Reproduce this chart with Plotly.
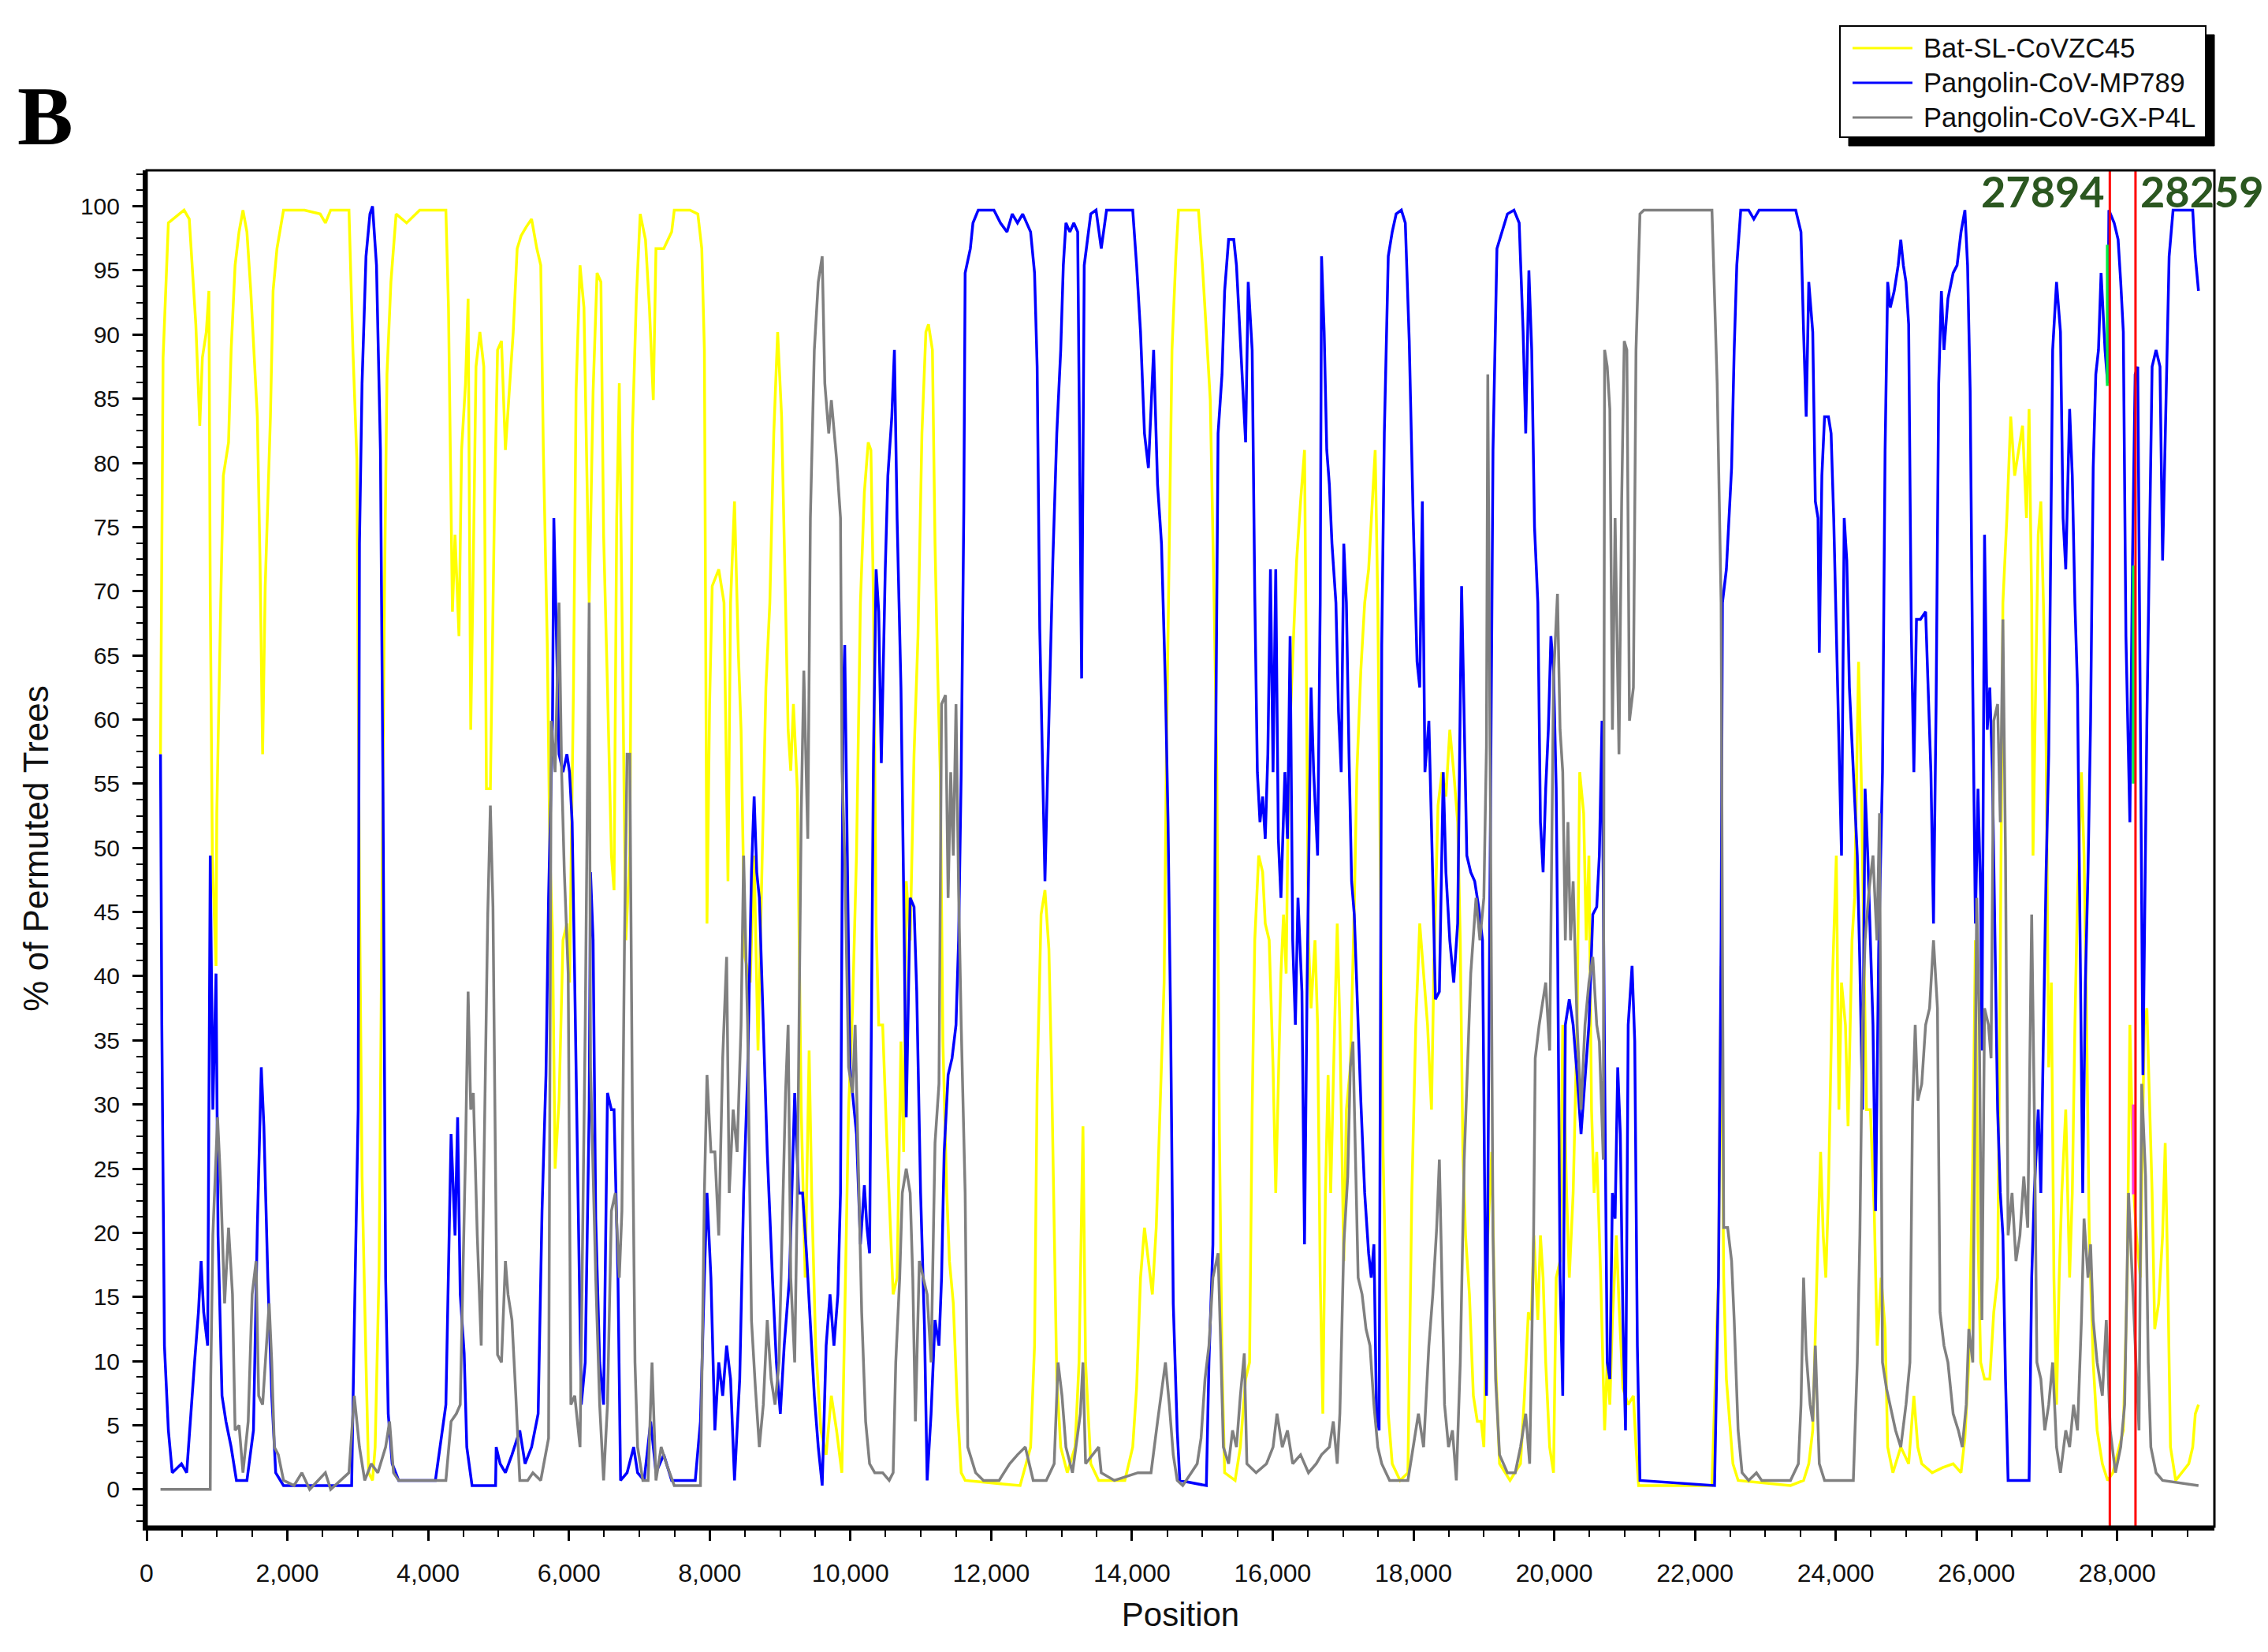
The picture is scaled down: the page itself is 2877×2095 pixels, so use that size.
import plotly.graph_objects as go

# ---------------- data (position in bp, % of permuted trees) ----------------
bat_x = [197,234,309,532,606,643,699,755,792,848,885,904,934,986,997,1053,1090,1164,1201,1257,1313,1369,1425,1480,1536,1573,1611,1648,1685,1759,1797,1852,1945,2243,2466,2540,2615,2875,2931,2987,3024,3061,3117,3154,3210,3247,3303,3340,3378,3415,3471,3545,3694,3880,4252,4289,4326,4345,4382,4438,4475,4531,4568,4605,4642,4680,4735,4791,4828,4884,4940,4986,5042,5098,5153,5209,5265,5321,5395,5470,5544,5600,5637,5693,5730,5767,5804,5860,5916,5972,6009,6065,6102,6158,6214,6251,6288,6344,6400,6455,6493,6548,6604,6641,6679,6716,6753,6809,6865,6902,6958,7013,7088,7144,7199,7237,7348,7460,7497,7720,7832,7888,7925,7962,7999,8036,8129,8204,8260,8297,8353,8408,8446,8501,8576,8632,8687,8743,8799,8855,8911,8966,9022,9078,9115,9152,9190,9245,9301,9357,9413,9450,9506,9580,9655,9729,9803,9878,9919,9974,10030,10086,10142,10198,10253,10291,10328,10365,10402,10458,10514,10570,10607,10663,10718,10756,10793,10849,10904,10960,11016,11072,11109,11165,11202,11239,11276,11314,11369,11407,11462,11518,11574,11630,12411,12560,12616,12653,12709,12764,12820,12857,12895,12932,12988,13081,13192,13248,13304,13341,13415,13527,13899,14011,14066,14122,14178,14234,14290,14345,14401,14457,14494,14531,14569,14624,14662,14945,15001,15057,15113,15168,15206,15243,15280,15317,15466,15540,15615,15671,15708,15745,15801,15857,15894,15950,16005,16043,16080,16117,16154,16191,16229,16284,16340,16396,16452,16470,16508,16545,16601,16638,16675,16712,16749,16787,16824,16880,16917,16954,17010,17047,17103,17159,17196,17252,17307,17363,17419,17456,17493,17531,17568,17605,17642,17698,17810,17921,17977,18033,18089,18144,18200,18256,18293,18349,18405,18461,18516,18572,18628,18665,18702,18740,18795,18851,18907,18963,19000,19056,19112,19167,19223,19372,19521,19577,19632,19674,19711,19767,19804,19842,19879,19935,19990,20028,20083,20121,20176,20214,20269,20325,20362,20418,20455,20493,20530,20567,20604,20660,20716,20753,20790,20827,20883,20920,20976,21051,21125,21162,21199,22241,22297,22334,22371,22408,22446,22483,22539,22613,23357,23543,23617,23673,23710,23748,23785,23822,23859,23896,23952,24008,24045,24082,24138,24175,24231,24268,24324,24361,24399,24436,24492,24547,24589,24645,24701,24738,24812,24924,25036,25110,25166,25222,25370,25519,25668,25780,25835,25891,25947,25984,26021,26059,26114,26189,26245,26300,26338,26375,26431,26486,26542,26598,26654,26710,26747,26784,26803,26840,26877,26914,26951,26989,27026,27063,27100,27137,27175,27212,27268,27323,27361,27398,27435,27491,27528,27565,27602,27658,27714,27788,27863,27937,28030,28086,28142,28179,28235,28272,28328,28384,28421,28458,28495,28532,28588,28644,28681,28718,28756,28830,29016,29072,29109,29154]
bat_y = [57.3,88.2,98.7,99.7,99,95.4,90.8,82.9,88.2,90.2,93.4,69.8,49.4,40.8,52.7,69.1,79,81.6,88.8,95.4,98,99.7,98,93.4,87.5,83.6,72.4,57.3,70.4,83.6,93.4,96.7,99.7,99.7,99.4,98.7,99.7,99.7,88.8,80.3,46.7,24.4,9.9,1.3,0.7,3.3,17.1,44.1,69.1,86.9,94.1,99.4,98.7,99.7,99.7,92.1,78.3,68.4,74.4,66.5,81,86.2,92.8,59.2,72.4,87.5,90.2,87.5,54.6,54.6,75.7,88.8,89.5,81,85.6,90.2,96.7,97.7,98.4,99,96.7,95.4,81,65.8,49.4,43.4,25,30.3,42.8,44.1,39.5,62.5,85.6,95.4,92.1,79,69.1,85.6,94.8,94.1,74.4,62.5,49.4,46.7,75.7,86.2,69.1,42.8,49.4,82.3,92.8,99.4,97.4,92.1,84.9,96.7,96.7,98,99.7,99.7,99.4,96.7,88.8,44.1,61.2,70.4,71.7,69.1,47.4,69.1,77,65.2,59.2,41.5,39.5,49.4,34.2,49.4,62.5,69.1,82.3,90.2,83.6,69.1,59.2,56,61.2,54.6,29.6,16.5,34.2,23,11.2,4.6,2.7,7.3,4.6,1.3,13.2,29.6,37.5,49.4,69.1,77.7,81.6,81,69.1,44.1,36.2,36.2,27.7,20.4,15.2,16.5,34.9,26.3,47.4,42.8,57.3,66.5,82.3,90.2,90.8,88.8,73.7,63.8,55.9,34.9,23.1,17.8,14.5,6.6,1.3,0.7,0.3,3.3,11.2,31.6,44.8,46.7,42.1,32.9,19.8,8.6,3.3,1.3,3.3,9.9,28.3,9.9,2,0.7,0.7,3.3,7.9,16.5,20.4,17.8,15.2,20.4,29.6,39.5,59.2,75.7,88.8,96.1,99.7,99.7,95.4,90.2,84.9,69.1,55.9,27.7,9.9,1.3,0.7,3.3,8.6,9.9,29.6,42.8,49.4,48.1,44.1,42.8,32.9,23.1,32.9,40.2,44.8,40.2,57.3,65.2,72.4,77,81,69.1,42.8,37.5,42.8,36.2,16.5,5.9,23.1,32.3,23.1,36.2,44.1,36.2,17.8,29.6,32.9,45.4,55.9,63.8,69.1,71.7,77,81,69.1,49.4,26.3,16.5,5.9,2,0.7,1.3,23.1,36.2,44.1,40.2,36.2,29.6,41.5,53.3,55.9,54,59.2,55.9,52,42.8,26.3,19.8,15.2,7.3,5.3,5.3,3.3,19.8,26.3,9.9,2,0.7,2,7.3,13.8,13.2,19.8,13.2,19.8,16.5,9.9,3.3,1.3,16.5,17.8,36.2,23.1,16.5,23.1,36.2,55.9,52.7,42.8,49.4,29.6,23.1,26.3,16.5,4.6,9.9,6.6,13.2,19.8,14.5,7.9,6.6,7.3,3.3,0.3,0.3,9.9,16.5,40.8,16.5,8.6,5.9,2,0.7,0.3,0.7,2,4.6,13.2,19.8,26.3,19.8,16.5,23.1,39.5,49.4,29.6,39.5,36.2,28.3,42.8,46.1,64.5,55.9,42.8,29.6,29.6,21.7,11.2,16.5,12.5,3.3,1.3,3.3,2,7.3,3.3,2,1.3,1.7,2,1.3,4,9.9,25.7,42.8,19.8,9.9,8.6,8.6,13.8,16.5,41.5,69.1,75.7,83.6,79,81,82.9,75.7,84.2,69.1,49.4,62.5,74.4,77,69.1,57.9,32.9,39.5,16.5,6.6,16.5,23.1,29.6,16.5,23.1,36.2,46.1,55.9,49.4,36.2,19.8,9.9,4.6,2,0.7,1.3,3.3,4.6,16.5,36.2,23.1,19.8,16.5,36.2,37.5,29.6,23.1,12.5,14.5,19.8,27,16.5,3.3,0.7,2,3.3,5.9,6.6]

mp789_x = [197,216,253,309,364,495,569,625,681,736,774,811,867,904,941,986,1015,1071,1127,1201,1276,1425,1518,1573,1629,1666,1722,1778,1834,1945,2913,2950,3006,3024,3061,3117,3173,3210,3266,3322,3359,3396,3433,3489,3582,4103,4252,4326,4382,4419,4456,4512,4549,4624,4958,4967,5023,5098,5191,5302,5377,5470,5563,5618,5674,5711,5767,5786,5823,5860,5916,5972,6009,6046,6083,6139,6176,6232,6288,6307,6344,6381,6437,6493,6548,6604,6641,6697,6734,6827,6920,6976,7069,7162,7237,7348,7460,7795,7869,7925,7962,8018,8074,8129,8185,8241,8297,8353,8427,8483,8539,8594,8632,8669,8706,8762,8818,8892,8948,9004,9059,9134,9208,9264,9320,9376,9431,9487,9543,9599,9655,9710,9766,9822,9859,9878,9896,9919,9956,9993,10030,10086,10142,10198,10235,10272,10328,10365,10402,10439,10495,10532,10588,10625,10663,10718,10756,10793,10849,10904,10942,10997,11053,11090,11146,11202,11258,11295,11332,11388,11444,11500,11537,11574,11611,11630,11704,11741,11816,12039,12132,12225,12299,12374,12448,12560,12616,12653,12690,12727,12764,12802,12839,12876,12932,12988,13025,13062,13118,13174,13229,13285,13322,13415,13490,13564,13639,14011,14066,14122,14178,14234,14308,14364,14420,14476,14513,14550,14587,14643,14680,15057,15094,15150,15187,15224,15280,15317,15373,15447,15485,15522,15578,15615,15652,15708,15745,15782,15819,15857,15894,15931,15968,16005,16043,16080,16117,16173,16210,16247,16284,16322,16359,16415,16452,16489,16545,16582,16638,16675,16694,16731,16768,16805,16842,16898,16935,16973,17010,17047,17084,17121,17159,17196,17252,17307,17363,17400,17438,17475,17512,17549,17586,17642,17698,17754,17828,17884,17940,17996,18051,18089,18126,18163,18219,18275,18312,18368,18423,18461,18516,18572,18628,18684,18721,18758,18814,18870,18926,18981,19037,19093,19130,19186,19260,19335,19428,19502,19558,19595,19640,19680,19720,19767,19804,19842,19879,19916,19953,19990,20028,20046,20083,20121,20158,20214,20269,20325,20381,20437,20493,20548,20604,20641,20679,20716,20753,20790,20827,20865,20902,20939,20976,21013,21051,21106,21144,21181,21218,22278,22334,22371,22390,22446,22483,22520,22557,22594,22650,22762,22836,22911,23431,23506,23543,23580,23617,23673,23710,23748,23766,23803,23841,23896,23934,23971,24027,24082,24120,24157,24194,24250,24306,24343,24380,24417,24455,24492,24529,24566,24610,24664,24701,24738,24775,24831,24887,24924,24961,24998,25036,25073,25110,25147,25203,25277,25315,25352,25389,25426,25463,25501,25538,25594,25668,25724,25780,25835,25873,25910,25947,25984,26021,26059,26077,26114,26152,26189,26226,26263,26300,26338,26375,26412,26449,26747,26784,26821,26877,26914,26951,26989,27026,27082,27137,27193,27230,27268,27323,27361,27398,27435,27472,27509,27547,27584,27621,27658,27695,27733,27770,27826,27863,27881,27956,28012,28049,28086,28123,28179,28216,28254,28291,28328,28365,28421,28458,28495,28551,28607,28644,28681,28737,28793,29072,29109,29154]
mp789_y = [57.3,36.2,11.2,4.6,1.3,2,1.3,5.9,9.9,13.8,17.8,13.8,11.2,49.4,29.6,40.2,19.8,7.3,5.3,3.3,0.7,0.7,4.6,20.4,32.9,28.3,16.5,7.3,1.3,0.3,0.3,12.5,29.6,73.7,86.2,96.1,99.4,100,95.4,81,54,16.5,5.9,2,0.7,0.7,6.6,27.7,19.8,29,15.2,10.6,3.3,0.3,0.3,3.3,2,1.3,2.7,4.6,2,3.3,5.9,21.7,32.3,46.1,59.9,75.7,65.2,57.3,55.9,57.3,55.9,52,39.5,19.8,6.6,9.9,29.6,48.1,42.8,21.1,9.9,6.6,30.9,29.6,29.6,16.5,0.7,1.3,3.3,1.3,0.7,5.3,1.3,2.7,0.7,0.7,5.3,16.5,23.1,16.5,4.6,9.9,7.3,11.2,8.6,0.7,8.6,23.1,32.3,48.1,54,48.1,46.1,36.2,26.3,16.5,9.9,5.9,11.2,16.5,30.9,23.1,23.1,18.4,12.5,7.3,3.3,0.3,11.2,15.2,11.2,15.2,23.1,46.1,61.2,65.8,49.4,32.9,30.9,27.7,19.1,23.7,20.4,18.4,57.3,71.7,68.4,56.6,71.7,79,83.6,88.8,75.7,62.5,46.7,29,46.1,45.4,38.8,23.1,12.5,0.7,5.9,13.2,11.2,16.5,26.3,32.3,33.6,36.2,42.8,55.9,76.3,94.8,96.7,98.7,99.7,99.7,98.7,98,99.4,98.7,99.4,98,94.8,87.5,67.1,55.9,47.4,55.9,65.2,72.4,82.3,88.8,95.4,98.7,98,98.7,98,63.2,95.4,99.4,99.7,96.7,99.7,99.7,95.4,90.2,82.3,79.6,88.8,78.3,73.7,62.5,52,36.2,14.5,4.6,0.7,0.3,9.9,19.1,55.9,82.3,86.9,93.4,97.4,97.4,95.4,91.5,84.9,81.6,94.1,88.8,69.8,55.9,52,54,50.7,57.3,71.7,55.9,71.7,50.7,46.1,55.9,50.7,66.5,42.8,36.2,46.1,38.8,19.1,39.5,62.5,55.9,49.4,69.1,96.1,90.2,81,78.3,73.7,69.1,60.6,55.9,73.7,69.1,57.3,47.4,44.8,38.8,30.3,23.1,18.4,16.5,19.1,5.9,4.6,65.8,82.3,96.1,98,99.4,99.7,98.7,89.5,75.7,64.5,62.5,77,55.9,59.9,47.4,38.2,38.8,55.9,48.1,42.8,39.5,44.1,70.4,59.2,49.4,48.1,47.4,45.4,42.8,7.3,55.9,81,96.7,98,99.4,99.7,98.7,90.2,82.3,95,88.8,75,69.1,52,48.1,54.6,59.2,66.5,63.8,54.6,44.1,16.5,7.3,36.2,38.2,36.2,32.3,27.7,32.3,36.2,44.8,45.4,49.4,59.9,32.9,9.9,8.6,23.1,21.1,32.9,27.7,13.2,4.6,36.2,40.8,34.9,11.2,0.7,0.3,16.5,42.8,69.1,71.7,75.7,79.6,88.8,95.4,99.7,99.7,99,99.7,99.7,98,90.2,83.6,94.1,90.2,77,75.7,65.2,79,83.6,83.6,82.3,75.7,62.5,49.4,75.7,72.4,62.5,55.9,49.4,40.8,29.6,54.6,49.4,42.8,36.2,21.7,42,55.9,81,94.1,92.1,93.4,95.4,97.4,95.4,94.1,90.8,67.1,55.9,67.8,67.8,68.4,62.5,55.9,44.1,61.2,86.2,93.4,88.8,92.8,94.8,95.4,98,99.7,95.4,85.6,62.5,44.1,54.6,46.1,34.2,74.4,59.2,62.5,55.9,42.8,29.6,23.1,19.8,8.6,0.7,0.7,16.5,23.1,29.6,23.1,36.2,48.1,57.3,88.8,94.1,90.2,75.7,71.7,84.2,79,69.1,62.5,42.8,23.1,39.5,48.1,59.9,79.6,86.9,88.8,94.8,88.8,86.2,99.7,98.7,97.4,94.1,90.2,66.5,52,72.4,86.9,87.5,60.6,32.3,59.9,73.7,87.5,88.8,87.5,72.4,82.3,96.1,99.7,99.7,96.1,93.4]

gx_x = [197,904,911,941,1008,1053,1108,1164,1220,1257,1313,1369,1443,1499,1555,1592,1648,1704,1741,1778,1815,1871,1945,2094,2206,2317,2540,2615,2875,2950,3024,3099,3192,3285,3396,3452,3508,3582,4252,4326,4401,4456,4531,4568,4605,4642,4698,4754,4791,4847,4884,4921,4958,4986,5042,5098,5135,5191,5246,5302,5414,5488,5600,5711,5749,5804,5860,5897,5935,5990,6028,6083,6158,6232,6288,6307,6381,6437,6493,6548,6604,6660,6716,6753,6790,6827,6865,6902,6939,6976,7051,7125,7181,7237,7311,7385,7497,7869,7925,7962,8018,8074,8129,8185,8241,8278,8334,8390,8446,8483,8539,8594,8650,8706,8762,8818,8873,8929,8985,9041,9078,9115,9152,9208,9245,9301,9338,9394,9431,9487,9543,9599,9636,9692,9729,9803,9859,9881,9919,9974,10030,10067,10105,10160,10216,10272,10346,10458,10551,10607,10644,10700,10737,10793,10849,10886,10923,10979,11035,11090,11146,11202,11258,11295,11351,11388,11425,11462,11500,11537,11574,11630,11667,11779,11890,12113,12262,12374,12485,12597,12783,12895,12950,13006,13062,13155,13267,13304,13341,13527,13564,13750,14085,14271,14364,14476,14531,14587,14643,14722,14927,14982,15038,15094,15150,15224,15261,15299,15373,15429,15485,15540,15596,15633,15764,15912,16005,16061,16136,16210,16284,16396,16508,16619,16694,16805,16861,16917,16954,17010,17066,17103,17140,17177,17214,17270,17326,17382,17438,17493,17549,17661,17921,17996,18070,18144,18219,18275,18330,18368,18405,18442,18498,18554,18609,18665,18721,18777,18814,18889,18944,19000,19037,19056,19093,19130,19167,19223,19335,19446,19521,19595,19651,19707,19730,19786,19842,19879,19935,19990,20046,20083,20121,20158,20195,20232,20269,20325,20381,20437,20493,20548,20604,20641,20697,20716,20753,20790,20827,20865,20920,20958,20995,21032,21069,21125,21162,21218,21274,22241,22315,22371,22390,22408,22464,22520,22557,22613,22669,22762,22873,22948,23357,23469,23506,23543,23580,23636,23673,23710,23766,23841,24250,24306,24343,24380,24417,24473,24529,24585,24622,24645,24664,24720,24775,24850,24924,24998,25054,25091,25129,25166,25222,25277,25333,25389,25445,25482,25538,25594,25668,25742,25798,25854,25891,25947,26003,26040,26077,26114,26170,26207,26245,26300,26338,26375,26412,26449,26505,26561,26617,26672,26728,26784,26821,26858,26914,26970,27026,27082,27137,27193,27268,27323,27379,27435,27491,27528,27584,27621,27658,27714,27788,27844,27900,27974,28049,28105,28160,28216,28272,28309,28347,28402,28440,28477,28551,28644,29154]
gx_y = [0,0,8.6,19.8,29,23.7,14.5,20.4,15.2,4.6,5,1.3,5.3,15.2,17.8,7.3,6.6,11.2,14.5,9.9,3.3,2.7,0.7,0.3,1.3,0,1.3,0,1.3,7.3,3.3,0.7,2,1.3,3.3,5.3,1.3,0.7,0.7,5.3,5.9,6.6,26.3,38.8,29.6,30.9,19.8,11.2,23.7,44.8,53.3,45.4,24.4,10.5,9.9,17.8,15.2,13.2,7.3,0.7,0.7,1.3,0.7,4,59.9,55.9,69.1,55.9,48.1,40.2,6.6,7.3,3.3,36.2,69.1,32.9,16.5,6.6,0.7,6.6,21.7,23.1,16.5,21.7,42.8,57.3,57.3,29.6,9.9,3.3,0.7,0.7,9.9,0.7,3.3,2,0.3,0.3,23.1,32.3,26.3,26.3,19.8,33.6,41.5,23.1,29.6,26.3,36.2,49.4,36.2,13.2,7.9,3.3,6.6,13.2,8.6,6.6,9.9,23.1,30.9,36.2,16.5,9.9,23.1,52.7,63.8,50.7,75.7,88.8,94.1,96.1,86.2,82.3,84.9,80.3,75.7,55.9,49.4,32.9,30.9,36.2,27.7,13.8,5.3,2,1.3,1.3,0.7,1.3,9.9,16.5,23.1,25,23.1,16.5,5.3,17.8,16.5,15.2,9.9,27,31.6,61.2,61.9,46.1,55.9,49.4,61.2,46.7,36.2,23.1,3.3,1.3,0.7,0.7,2,2.7,3.3,0.7,0.7,2,9.9,7.3,3.3,1.3,5.9,9.9,2,3.3,1.3,0.7,1.3,1.3,5.3,9.9,6.6,2.7,0.7,0.3,2,4,8.6,11.2,16.5,18.4,11.2,3.3,2,4.6,3.3,7.3,10.6,2,1.3,2,3.3,5.9,3.3,4.6,2,2.7,1.3,2,2.7,3.3,5.3,2,5.9,19.1,24.4,32.9,34.9,24.4,16.5,15.2,12.5,11.2,6.6,3.3,2,0.7,0.7,3.3,5.9,3.3,11.2,15.2,20.4,25.7,16.5,6.6,3.3,4.6,0.7,9.9,25.7,34.2,40.2,46.1,42.8,46.1,57.9,86.9,54.6,19.8,8.6,2.7,1.3,1.3,3.3,5.9,2,19.8,33.6,36.2,38.2,39.5,34.2,63.2,69.8,59.2,55.9,42.8,52,42.8,47.4,36.2,29.6,36.2,39.5,41.5,36.2,34.9,25.7,88.8,87.5,84.2,59.2,75.7,57.3,77,89.5,88.8,59.9,62.5,88.8,99.4,99.7,99.7,86.2,69.1,42.8,20.4,20.4,17.8,13.2,4.6,1.3,0.7,1.3,0.7,0.7,2,6.6,16.5,10.6,6.6,5.3,11.2,2,0.7,0.7,9.9,19.8,36.2,42.8,46.7,49.4,42.8,52.7,30,9.9,7.9,6.6,4.6,3.3,6.6,9.9,29.6,36.2,30.3,31.6,36.2,37.5,42.8,37.5,13.8,11.2,9.9,5.9,4.6,3.3,6.6,12.5,9.9,46.1,36.2,13.2,37.5,36.2,33.6,59.9,61.2,52,67.8,49.4,19.8,23.1,17.8,19.8,24.4,20.4,44.8,29.6,9.9,8.6,4.6,6.6,9.9,3.3,1.3,4.6,3.3,6.6,4.6,13.2,21.1,16.5,19.1,13.2,9.9,7.3,13.2,4.6,1.3,3.3,6.6,23.1,16.5,9.9,4.6,31.6,24.4,9.9,3.3,1.3,0.7,0.3]

# highlighted segments inside the breakpoint window
green_x = [27858, 27858, None, 28228, 28228]
green_y = [86, 97, None, 55, 72]
magenta_x = [28228, 28228]
magenta_y = [23, 30]

breakpoints = [27894, 28259]
series_names = ["Bat-SL-CoVZC45", "Pangolin-CoV-MP789", "Pangolin-CoV-GX-P4L"]
series_colors = ["#ffff00", "#0000ff", "#808080"]

# ---------------- figure ----------------
# the page body adds an 8 px offset; layout is expressed in screenshot pixels
OFF = 8
W, H = 2877, 2095
PL, PR, PT, PB = 186, 2809, 216, 1936          # plot box in screenshot pixels
L, R, T, B = PL - OFF, W + OFF - PR, PT - OFF, H + OFF - PB
PW, PH = PR - PL, PB - PT


def px(xp):
    return (xp - PL) / PW


def py(yp):
    return (PB - yp) / PH


fig = go.Figure()
for xs, ys, name, col in zip([bat_x, mp789_x, gx_x], [bat_y, mp789_y, gx_y],
                             series_names, series_colors):
    fig.add_trace(go.Scatter(x=xs, y=ys, mode="lines", name=name,
                             line=dict(color=col, width=3.5), showlegend=False))
fig.add_trace(go.Scatter(x=green_x, y=green_y, mode="lines",
                         line=dict(color="#00ee44", width=3.5), showlegend=False))
fig.add_trace(go.Scatter(x=magenta_x, y=magenta_y, mode="lines",
                         line=dict(color="#ff33dd", width=3.5), showlegend=False))

shapes = []
for bp in breakpoints:
    shapes.append(dict(type="line", xref="x", yref="paper", x0=bp, x1=bp, y0=0, y1=1,
                       line=dict(color="#ff0000", width=3), layer="above"))
# plot frame
shapes.append(dict(type="rect", xref="paper", yref="paper", x0=0, x1=1, y0=0, y1=1,
                   line=dict(color="black", width=3), layer="above"))
# legend box with drop shadow
lx0, lx1, ly0, ly1 = 2334, 2798, 33, 174
shapes.append(dict(type="rect", xref="paper", yref="paper",
                   x0=px(lx0 + 11), x1=px(lx1 + 11), y0=py(ly1 + 11), y1=py(ly0 + 11),
                   fillcolor="black", line=dict(color="black", width=1), layer="above"))
shapes.append(dict(type="rect", xref="paper", yref="paper",
                   x0=px(lx0), x1=px(lx1), y0=py(ly1), y1=py(ly0),
                   fillcolor="white", line=dict(color="black", width=2), layer="above"))
annotations = []
for i, (name, col) in enumerate(zip(series_names, series_colors)):
    yy = py(61 + 44 * i)
    shapes.append(dict(type="line", xref="paper", yref="paper", x0=px(2350), x1=px(2426),
                       y0=yy, y1=yy, line=dict(color=col, width=3), layer="above"))
    annotations.append(dict(xref="paper", yref="paper", x=px(2438), y=yy, text=name,
                            showarrow=False, xanchor="left", yanchor="middle",
                            font=dict(family="Liberation Sans", size=34.5, color="#111111")))

annotations.append(dict(xref="x", yref="y", x=breakpoints[0], y=101.2,
                        text="<b>%d</b>" % breakpoints[0], showarrow=False,
                        xanchor="right", yanchor="middle", xshift=-4,
                        font=dict(family="Lato", size=54, color="#2b5720")))
annotations.append(dict(xref="x", yref="y", x=breakpoints[1], y=101.2,
                        text="<b>%d</b>" % breakpoints[1], showarrow=False,
                        xanchor="left", yanchor="middle", xshift=4,
                        font=dict(family="Lato", size=54, color="#2b5720")))
annotations.append(dict(xref="paper", yref="paper", x=px(20), y=py(147),
                        text="<b>B</b>", showarrow=False, xanchor="left", yanchor="middle",
                        font=dict(family="Liberation Serif", size=106, color="black")))

fig.update_layout(
    template="none",
    width=W, height=H,
    margin=dict(l=L, r=R, t=T, b=B, pad=0),
    paper_bgcolor="white", plot_bgcolor="white",
    showlegend=False,
    shapes=shapes, annotations=annotations,
    xaxis=dict(range=[0, 29380], tickmode="linear", tick0=0, dtick=2000, tickformat=",",
               ticks="outside", ticklen=13, tickwidth=3, tickcolor="black",
               showline=True, linewidth=5, linecolor="black", mirror=False,
               showgrid=False, zeroline=False, automargin=False, ticklabelstandoff=14,
               tickfont=dict(family="Liberation Sans", size=32, color="#111111"),
               minor=dict(dtick=500, ticks="outside", ticklen=8, tickwidth=2,
                          tickcolor="black", showgrid=False),
               title=dict(text="Position", standoff=22,
                          font=dict(family="Liberation Sans", size=42, color="#111111"))),
    yaxis=dict(range=[-2.9, 102.8], tickmode="linear", tick0=0, dtick=5,
               ticks="outside", ticklen=13, tickwidth=3, tickcolor="black",
               showline=True, linewidth=5, linecolor="black", mirror=False,
               showgrid=False, zeroline=False, automargin=False, ticklabelstandoff=10,
               tickfont=dict(family="Liberation Sans", size=30, color="#111111"),
               minor=dict(dtick=1.25, ticks="outside", ticklen=8, tickwidth=2,
                          tickcolor="black", showgrid=False),
               title=dict(text="% of Permuted Trees", standoff=28,
                          font=dict(family="Liberation Sans", size=44, color="#111111"))),
)

fig.write_html("out.html")
